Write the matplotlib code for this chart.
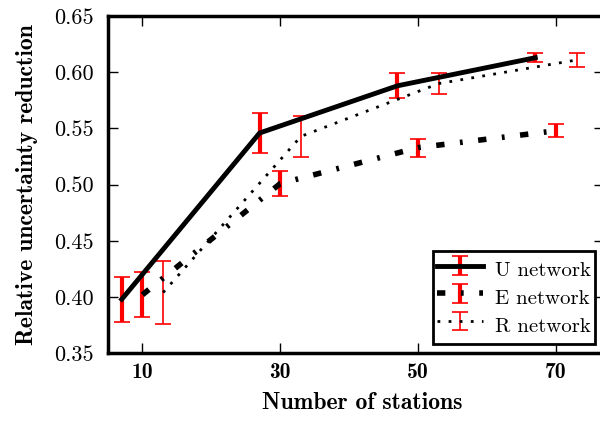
import numpy as np
import matplotlib.pyplot as plt
from matplotlib.container import ErrorbarContainer
from matplotlib.legend_handler import HandlerErrorbar

plt.rcParams['axes.formatter.use_mathtext'] = True

# network sizes are shifted a little so the error bars do not overlap
u_x = [7, 27, 47, 67]
u_y = [0.398, 0.546, 0.588, 0.613]
u_err = [0.020, 0.018, 0.011, 0.004]

e_x = [10, 30, 50, 70]
e_y = [0.402, 0.501, 0.533, 0.548]
e_err = [0.020, 0.011, 0.008, 0.006]

r_x = [13, 33, 53, 73]
r_y = [0.404, 0.543, 0.590, 0.611]
r_err = [0.028, 0.018, 0.009, 0.006]

x_ticks = [10, 30, 50, 70]
y_ticks = [0.35, 0.40, 0.45, 0.50, 0.55, 0.60, 0.65]

fig = plt.figure(figsize=(6, 4.25), dpi=100)
ax = fig.add_axes([0.18, 0.169, 0.827, 0.793])

ax.errorbar(u_x, u_y, yerr=u_err, color='black', lw=3.5, ecolor='red',
            elinewidth=3, capsize=5.5, capthick=1.2, label='U network')
l_e = ax.errorbar(e_x, e_y, yerr=e_err, color='black', lw=4, ecolor='red',
                  elinewidth=3, capsize=5.5, capthick=1.2, label='E network')
l_e[0].set_dashes((1.5, 2.8, 0.5, 2.8))
l_r = ax.errorbar(r_x, r_y, yerr=r_err, color='black', lw=2, ecolor='red',
                  elinewidth=1.2, capsize=5.5, capthick=1.2, label='R network')
l_r[0].set_dashes((1, 3))

ax.set_xlim(5, 77)
ax.set_ylim(0.35, 0.65)
ax.set_xticks(x_ticks)
ax.set_yticks(y_ticks)
ax.set_xticklabels([str(t) for t in x_ticks], family='cmb10', fontsize=15.5)
ax.set_yticklabels(['%.2f' % t for t in y_ticks], family='cmr10', fontsize=16)
ax.tick_params(direction='in', top=True, right=True, length=7, width=1)
ax.tick_params(axis='x', pad=7)
ax.tick_params(axis='y', pad=10)

for s in ax.spines.values():
    s.set_linewidth(2.5)

ax.set_xlabel('Number of stations', family='cmb10', fontsize=17, labelpad=11)
ax.set_ylabel('Relative uncertainty reduction', family='cmb10', fontsize=17, labelpad=12)
ax.xaxis.set_label_coords(0.512, -0.115)

leg = ax.legend(loc='lower right', prop={'family': 'cmr10', 'size': 15},
                fancybox=False, framealpha=1, edgecolor='black',
                handlelength=2.2, handletextpad=0.55, borderpad=0.2,
                handleheight=1.8, labelspacing=-0.09, borderaxespad=0.45,
                handler_map={ErrorbarContainer: HandlerErrorbar(xerr_size=0.45)})
leg.get_frame().set_linewidth(2)

fig.savefig('out.png', dpi=100)
